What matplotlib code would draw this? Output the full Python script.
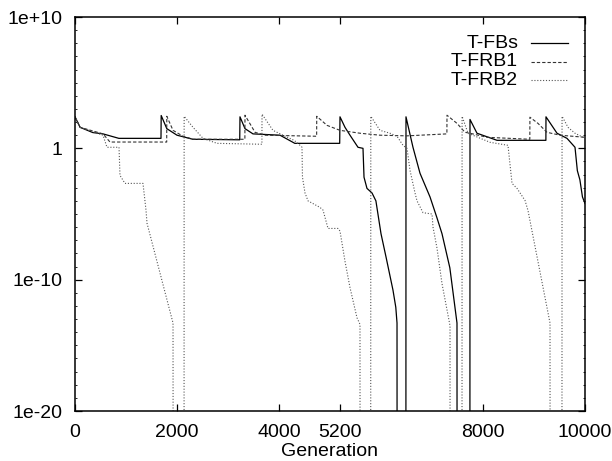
import numpy as np
import matplotlib
matplotlib.use("Agg")
import matplotlib.pyplot as plt
from matplotlib.ticker import FixedLocator, NullFormatter

plt.rcParams["font.family"] = ["Liberation Sans", "DejaVu Sans"]

# ---- data (generation, log10 of value) ----
# a drop to "0" is written as -30 so the line runs off the bottom of the log axis
fbs_gen = [0, 100, 350, 550, 860, 1686, 1690, 1800, 2000, 2310, 3230, 3235, 3333, 3490,
           4020, 4310, 5190, 5196, 5294, 5392, 5549, 5647, 5667, 5725, 5824, 5900, 6000,
           6100, 6235, 6290, 6314, 6316, 6488, 6490, 6627, 6765, 6961, 7098, 7196, 7350,
           7490, 7492, 7743, 7745, 7882, 8275, 9233, 9235, 9451, 9647, 9804, 9850, 9900,
           9950, 10000]
fbs_log = [2.4, 1.6, 1.2, 1.1, 0.76, 0.76, 2.5, 1.5, 1.0, 0.69, 0.65, 2.4, 1.5, 1.1,
           1.0, 0.38, 0.38, 2.4, 1.6, 1.0, 0.08, 0.0, -2.2, -3.05, -3.4, -4.0, -6.5,
           -8.3, -10.8, -12.1, -13.3, -30, -30, 2.4, 0.08, -1.9, -3.7, -5.3, -6.5, -9.1,
           -13.3, -30, -30, 2.2, 1.15, 0.61, 0.61, 2.4, 1.15, 0.76, 0.08, -1.7, -2.4,
           -3.7, -4.2]

frb1_gen = [0, 100, 550, 686, 1798, 1800, 1922, 2118, 2314, 3331, 3333, 3530, 3725, 4738,
            4740, 4941, 5196, 5588, 5980, 6510, 7292, 7294, 7490, 7647, 7745, 8078, 8918,
            8920, 9078, 9255, 9510, 10000]
frb1_log = [2.4, 1.6, 1.1, 0.48, 0.48, 2.44, 1.37, 0.92, 0.69, 0.69, 2.52, 1.22, 1.0, 0.92,
            2.44, 1.75, 1.37, 1.15, 1.0, 0.95, 1.1, 2.52, 1.9, 1.22, 1.15, 0.84, 0.69,
            2.37, 1.9, 1.22, 1.0, 0.84]

frb2_gen = [0, 100, 549, 627, 863, 882, 980, 1333, 1392, 1412, 1667, 1922, 1925, 2138,
            2140, 2314, 2510, 2784, 3665, 3667, 3882, 4078, 4300, 4412, 4451, 4460, 4510,
            4569, 4804, 4863, 4961, 5157, 5196, 5294, 5392, 5529, 5588, 5590, 5798, 5800,
            5980, 6176, 6314, 6431, 6510, 6569, 6667, 6706, 6824, 7000, 7020, 7098, 7196,
            7353, 7355, 7588, 7590, 7706, 8137, 8490, 8569, 8667, 8824, 8882, 9314, 9316,
            9548, 9550, 9667, 9804, 9961, 10000]
frb2_log = [2.4, 1.6, 1.0, 0.08, 0.08, -2.06, -2.67, -2.67, -4.7, -5.7, -9.5, -13.3, -30, -30,
            2.44, 1.6, 0.76, 0.38, 0.31, 2.6, 1.37, 1.0, 0.6, 0.23, 0.08, -2.2, -3.4,
            -4.0, -4.5, -4.7, -6.1, -6.1, -6.3, -8.6, -10.6, -12.9, -13.4, -30, -30, 2.44,
            1.37, 1.15, 0.92, 0.23, 0.0, -1.68, -3.4, -4.0, -4.9, -5.0, -6.0, -7.6, -10.3,
            -13.5, -30, -30, 2.44, 1.15, 0.46, 0.23, -2.67, -3.05, -3.97, -4.73, -13.3, -30,
            -30, 2.44, 1.6, 1.15, 0.84, 0.8]

x_ticks = [0, 2000, 4000, 5200, 8000, 10000]
y_ticks = [1e-20, 1e-10, 1, 1e10]
y_tick_labels = ["1e-20", "1e-10", "1", "1e+10"]

FS = 14

fig = plt.figure(figsize=(6.12, 4.61), dpi=100)
ax = fig.add_axes([75 / 612, 1 - 411 / 461, 510 / 612, 394 / 461])

series = [
    ("T-FBs", fbs_gen, fbs_log, dict(color="black", lw=0.9, linestyle="-")),
    ("T-FRB1", frb1_gen, frb1_log, dict(color="#333333", lw=0.8, linestyle=(0, (3, 1.8)))),
    ("T-FRB2", frb2_gen, frb2_log, dict(color="#555555", lw=0.8, linestyle=(0, (1, 1.6)))),
]
for name, g, lg, style in series:
    ax.plot(g, 10.0 ** np.array(lg), **style)

ax.set_yscale("log")
ax.set_xlim(0, 10000)
ax.set_ylim(1e-20, 1e10)
ax.set_xticks(x_ticks)
ax.set_xticklabels([str(t) for t in x_ticks])
ax.set_yticks(y_ticks)
ax.set_yticklabels(y_tick_labels)
ax.yaxis.set_minor_locator(FixedLocator([10.0 ** k for k in range(-20, 11)]))
ax.yaxis.set_minor_formatter(NullFormatter())
ax.tick_params(which="major", direction="in", length=5, width=0.9, top=True, right=True,
               labelsize=FS)
ax.tick_params(which="minor", direction="in", length=1.5, width=0.6, top=False, right=True)
ax.tick_params(axis="y", pad=9)
ax.tick_params(axis="x", pad=9)
for s in ax.spines.values():
    s.set_linewidth(1.1)

ax.set_xlabel("Generation", fontsize=FS, labelpad=1.5)

# gnuplot-style key: label right-aligned, line sample to its right
key_y = [0.934, 0.886, 0.840]
for (name, g, lg, style), yk in zip(series, key_y):
    ax.text(0.869, yk, name, transform=ax.transAxes, ha="right", va="center", fontsize=FS)
    ax.plot([0.894, 0.967], [yk, yk], transform=ax.transAxes, **style)

fig.savefig("out.png", dpi=100)
